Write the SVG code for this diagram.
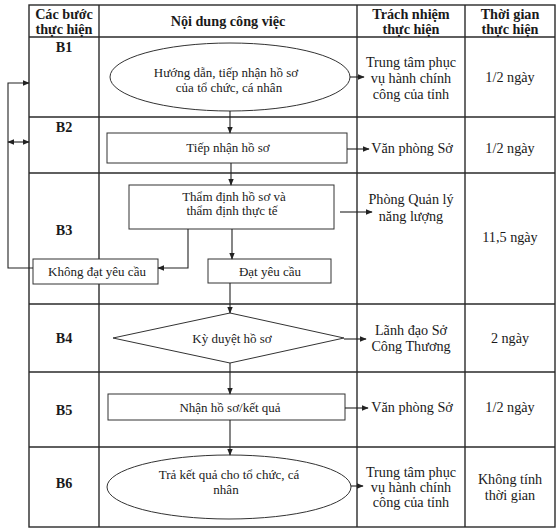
<svg xmlns="http://www.w3.org/2000/svg" width="560" height="532" viewBox="0 0 560 532">
<style>
.t{font-family:"Liberation Serif","Times New Roman",serif;font-size:13px;fill:#1a1a1a;text-anchor:middle}
.r{font-size:14.2px}
.b{font-weight:bold;font-size:14.2px}
.g{stroke:#2a2a2a;stroke-width:1.4;fill:none}
.s{stroke:#333;stroke-width:1;fill:#fff}
.c{stroke:#222;stroke-width:1.1;fill:none}
</style>
<defs>
<marker id="ah" viewBox="0 0 10 10" refX="9" refY="5" markerWidth="7" markerHeight="7" orient="auto-start-reverse" markerUnits="userSpaceOnUse">
<path d="M0,1 L10,5 L0,9 z" fill="#222"/>
</marker>
</defs>
<rect width="560" height="532" fill="#fff"/>
<g id="table">
<rect class="g" x="29" y="5" width="526" height="522"/>
<line class="g" x1="99" y1="5" x2="99" y2="527"/>
<line class="g" x1="357" y1="5" x2="357" y2="527"/>
<line class="g" x1="465" y1="5" x2="465" y2="527"/>
<line class="g" x1="29" y1="37" x2="555" y2="37"/>
<line class="g" x1="29" y1="117" x2="555" y2="117"/>
<line class="g" x1="29" y1="173" x2="555" y2="173"/>
<line class="g" x1="29" y1="304" x2="555" y2="304"/>
<line class="g" x1="29" y1="372" x2="555" y2="372"/>
<line class="g" x1="29" y1="447" x2="555" y2="447"/>
<text class="t b" x="64" y="19">Các bước</text>
<text class="t b" x="64" y="34">thực hiện</text>
<text class="t b" x="228" y="26">Nội dung công việc</text>
<text class="t b" x="411" y="19">Trách nhiệm</text>
<text class="t b" x="411" y="34">thực hiện</text>
<text class="t b" x="510" y="19">Thời gian</text>
<text class="t b" x="510" y="34">thực hiện</text>
<text class="t b" x="64" y="52">B1</text>
<text class="t b" x="64" y="132">B2</text>
<text class="t b" x="64" y="235">B3</text>
<text class="t b" x="64" y="343">B4</text>
<text class="t b" x="64" y="415">B5</text>
<text class="t b" x="64" y="488">B6</text>
<text class="t r" x="411" y="67">Trung tâm phục</text>
<text class="t r" x="411" y="83">vụ hành chính</text>
<text class="t r" x="411" y="99">công của tỉnh</text>
<text class="t r" x="510" y="82">1/2 ngày</text>
<text class="t r" x="412" y="153">Văn phòng Sở</text>
<text class="t r" x="510" y="153">1/2 ngày</text>
<text class="t r" x="411" y="204">Phòng Quản lý</text>
<text class="t r" x="411" y="221">năng lượng</text>
<text class="t r" x="510" y="242">11,5 ngày</text>
<text class="t r" x="411" y="335">Lãnh đạo Sở</text>
<text class="t r" x="411" y="351">Công Thương</text>
<text class="t r" x="510" y="343">2 ngày</text>
<text class="t r" x="412" y="412">Văn phòng Sở</text>
<text class="t r" x="510" y="412">1/2 ngày</text>
<text class="t r" x="411" y="477">Trung tâm phục</text>
<text class="t r" x="411" y="492">vụ hành chính</text>
<text class="t r" x="411" y="507">công của tỉnh</text>
<text class="t r" x="510" y="484">Không tính</text>
<text class="t r" x="510" y="500">thời gian</text>
</g>
<g id="n1">
<ellipse class="s" cx="230" cy="77" rx="120" ry="34"/>
<text class="t" x="226" y="77">Hướng dẫn, tiếp nhận hồ sơ</text>
<text class="t" x="229" y="92">của tổ chức, cá nhân</text>
</g>
<g id="n2">
<rect class="s" x="107" y="133" width="240" height="30"/>
<text class="t" x="228" y="152">Tiếp nhận hồ sơ</text>
</g>
<g id="n3">
<rect class="s" x="129" y="185" width="205" height="44"/>
<text class="t" x="234" y="201">Thẩm định hồ sơ và</text>
<text class="t" x="232" y="215">thẩm định thực tế</text>
</g>
<g id="n4">
<rect class="s" x="33" y="259" width="125" height="25"/>
<text class="t" x="97" y="276">Không đạt yêu cầu</text>
</g>
<g id="n5">
<rect class="s" x="208" y="259" width="123" height="24"/>
<text class="t" x="270" y="276">Đạt yêu cầu</text>
</g>
<g id="n6">
<polygon class="s" points="230,313 344,338 230,363 113,338"/>
<text class="t" x="232" y="343">Kỳ duyệt hồ sơ</text>
</g>
<g id="n7">
<rect class="s" x="108" y="394" width="237" height="26"/>
<text class="t" x="230" y="412">Nhận hồ sơ/kết quả</text>
</g>
<g id="n8">
<ellipse class="s" cx="229" cy="487" rx="122" ry="32"/>
<text class="t" x="229" y="479">Trả kết quả cho tổ chức, cá</text>
<text class="t" x="226" y="494">nhân</text>
</g>
<g id="connectors">
<line class="c" x1="350" y1="77" x2="364" y2="77" marker-end="url(#ah)"/>
<line class="c" x1="230" y1="111" x2="230" y2="133" marker-end="url(#ah)"/>
<line class="c" x1="347" y1="149" x2="369" y2="149" marker-end="url(#ah)"/>
<line class="c" x1="231" y1="163" x2="231" y2="185" marker-end="url(#ah)"/>
<line class="c" x1="340" y1="212" x2="372" y2="212" marker-end="url(#ah)"/>
<polyline class="c" points="188,229 188,268 158,268" marker-end="url(#ah)"/>
<line class="c" x1="232" y1="229" x2="232" y2="259" marker-end="url(#ah)"/>
<polyline class="c" points="33,268 8,268 8,83 29,83" marker-end="url(#ah)"/>
<line class="c" x1="8" y1="142" x2="29" y2="142" marker-start="url(#ah)" marker-end="url(#ah)"/>
<line class="c" x1="230" y1="283" x2="230" y2="313" marker-end="url(#ah)"/>
<line class="c" x1="344" y1="339" x2="366" y2="339" marker-end="url(#ah)"/>
<line class="c" x1="230" y1="363" x2="230" y2="394" marker-end="url(#ah)"/>
<line class="c" x1="345" y1="408" x2="368" y2="408" marker-end="url(#ah)"/>
<line class="c" x1="230" y1="420" x2="230" y2="455" marker-end="url(#ah)"/>
<line class="c" x1="351" y1="486" x2="363" y2="486" marker-end="url(#ah)"/>
</g>
</svg>
